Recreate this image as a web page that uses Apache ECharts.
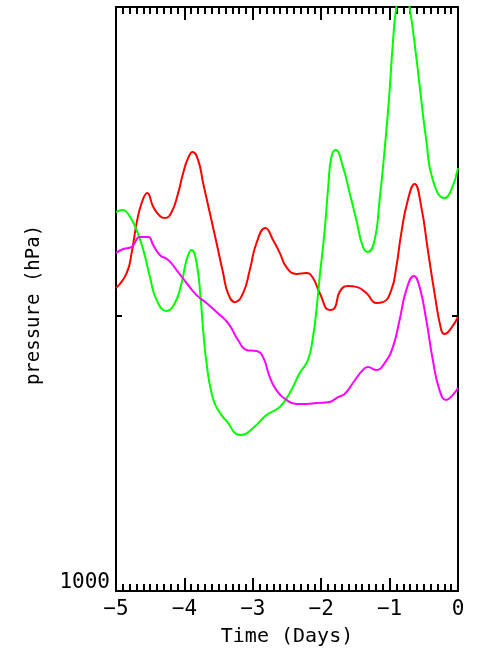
<!DOCTYPE html>
<html>
<head>
<meta charset="utf-8">
<script src="https://cdn.jsdelivr.net/npm/echarts@6/dist/echarts.min.js"></script>
<style>
html,body{margin:0;padding:0;background:#fff;}
#chart{width:478px;height:654px;}
</style>
</head>
<body>
<div id="chart"></div>
<script>
// Time (days) vs pressure (hPa)
const xTicks = [-5, -4, -3, -2, -1, 0];
const yTickValues = [900, 1000];
const yLabelValues = [1000];

const redSeries = [[-5,890.7],[-4.844,885.6],[-4.771,878.8],[-4.698,868.8],[-4.625,862.2],[-4.543,858.9],[-4.455,863.5],[-4.358,866.5],[-4.285,867.2],[-4.187,865.2],[-4.091,858.9],[-4.018,852.4],[-3.945,847.5],[-3.880,845.6],[-3.799,848.2],[-3.726,855.7],[-3.628,865.5],[-3.530,875.5],[-3.434,885.6],[-3.361,892.6],[-3.263,895.5],[-3.142,892.4],[-3.044,884.6],[-2.946,875.5],[-2.815,870.5],[-2.704,874.5],[-2.606,878.8],[-2.508,883.6],[-2.362,885.9],[-2.216,885.6],[-2.120,887.3],[-2.022,892.4],[-1.876,898.2],[-1.803,897.5],[-1.730,892.0],[-1.609,890.0],[-1.486,890.3],[-1.340,892.4],[-1.194,895.8],[-1.098,895.5],[-0.975,891.4],[-0.902,883.6],[-0.829,872.2],[-0.733,861.2],[-0.635,856.0],[-0.537,863.5],[-0.441,877.8],[-0.343,892.4],[-0.245,905.1],[-0.197,906.5],[-0.099,904.4],[0,900.6]];

const greenSeries = [[-5,865.2],[-4.902,864.5],[-4.796,866.8],[-4.698,871.2],[-4.601,877.8],[-4.504,886.9],[-4.406,894.8],[-4.260,898.5],[-4.139,895.8],[-4.041,889.0],[-3.968,881.2],[-3.895,877.8],[-3.822,882.2],[-3.764,893.8],[-3.726,905.1],[-3.676,916.6],[-3.603,927.1],[-3.507,933.2],[-3.361,937.8],[-3.238,941.8],[-3.165,942.1],[-2.996,939.6],[-2.800,935.0],[-2.606,932.1],[-2.460,927.1],[-2.314,920.1],[-2.193,915.5],[-2.120,907.5],[-2.070,898.2],[-2.022,886.9],[-1.949,871.2],[-1.901,857.9],[-1.851,847.2],[-1.788,844.9],[-1.682,850.4],[-1.584,858.9],[-1.486,867.8],[-1.390,876.8],[-1.317,878.5],[-1.219,874.5],[-1.146,861.2],[-1.073,844.9],[-1.010,828.9],[-0.952,811.1],[-0.902,800.1],[-0.810,790.2],[-0.708,800.1],[-0.610,815.4],[-0.537,828.9],[-0.464,841.7],[-0.368,854.7],[-0.197,860.6],[-0.099,857.9],[0,850.8]];

const magentaSeries = [[-5,878.8],[-4.893,877.5],[-4.771,876.8],[-4.650,873.5],[-4.528,873.5],[-4.455,876.2],[-4.358,879.5],[-4.236,881.2],[-4.114,884.6],[-3.968,889.0],[-3.822,893.1],[-3.676,895.8],[-3.530,898.9],[-3.361,902.7],[-3.215,908.6],[-3.092,912.0],[-2.946,912.4],[-2.850,914.5],[-2.752,921.5],[-2.654,926.1],[-2.508,929.6],[-2.362,931.0],[-2.216,931.0],[-2.070,930.7],[-1.876,930.3],[-1.755,928.6],[-1.657,927.5],[-1.536,923.6],[-1.390,919.0],[-1.317,918.0],[-1.194,919.0],[-1.073,916.6],[-0.952,911.0],[-0.854,901.6],[-0.756,891.4],[-0.645,886.6],[-0.562,890.3],[-0.464,901.6],[-0.368,915.5],[-0.270,926.1],[-0.172,929.6],[-0.075,927.8],[0,925.4]];

const FONT = '"DejaVu Sans Mono", monospace';
const chart = echarts.init(document.getElementById('chart'), null, {renderer: 'canvas'});

function fmtX(v) { return v < 0 ? '\u2212' + Math.abs(v) : String(v); }

const xBase = {
  type: 'value', min: -5, max: 0, interval: 1,
  axisLine: {onZero: false, lineStyle: {color: '#000', width: 2}},
  axisTick: {show: true, inside: true, length: 13, lineStyle: {color: '#000', width: 2}},
  minorTick: {show: true, splitNumber: 10, length: 7, lineStyle: {color: '#000', width: 2}},
  splitLine: {show: false}
};
const yBase = {
  type: 'log', logBase: 10, min: 800, max: 1000, inverse: true,
  axisLine: {onZero: false, lineStyle: {color: '#000', width: 2}},
  axisTick: {show: true, inside: true, length: 6, customValues: yTickValues, lineStyle: {color: '#000', width: 2}},
  minorTick: {show: false},
  splitLine: {show: false}
};

chart.setOption({
  animation: false,
  backgroundColor: '#fff',
  grid: {left: 116, right: 20, top: 7, bottom: 63, containLabel: false},
  xAxis: [
    Object.assign({}, xBase, {
      position: 'bottom',
      name: 'Time (Days)', nameLocation: 'middle', nameGap: 36,
      nameTextStyle: {fontFamily: FONT, fontSize: 20, color: '#000'},
      axisLabel: {show: true, margin: 8, fontFamily: FONT, fontSize: 21, color: '#000', formatter: fmtX}
    }),
    Object.assign({}, xBase, {position: 'top', axisLabel: {show: false}})
  ],
  yAxis: [
    Object.assign({}, yBase, {
      position: 'left',
      name: 'pressure (hPa)', nameLocation: 'middle', nameGap: 72, nameRotate: 90,
      nameTextStyle: {fontFamily: FONT, fontSize: 19, color: '#000', padding: [0, 12, 0, 0]},
      axisLabel: {show: true, customValues: yLabelValues, margin: 6, fontFamily: FONT, fontSize: 21, color: '#000',
        verticalAlign: 'bottom', lineHeight: 16, formatter: function (v) { return String(Math.round(v)); }}
    }),
    Object.assign({}, yBase, {position: 'right', axisTick: Object.assign({}, yBase.axisTick, {customValues: [900]}), axisLabel: {show: false}})
  ],
  series: [
    {type: 'line', data: redSeries, xAxisIndex: 0, yAxisIndex: 0, showSymbol: false, smooth: 0.5,
      lineStyle: {color: '#ff0000', width: 2}, itemStyle: {color: '#ff0000'}, clip: true},
    {type: 'line', data: greenSeries, xAxisIndex: 0, yAxisIndex: 0, showSymbol: false, smooth: 0.5,
      lineStyle: {color: '#00ff00', width: 2}, itemStyle: {color: '#00ff00'}, clip: true},
    {type: 'line', data: magentaSeries, xAxisIndex: 0, yAxisIndex: 0, showSymbol: false, smooth: 0.5,
      lineStyle: {color: '#ff00ff', width: 2}, itemStyle: {color: '#ff00ff'}, clip: true}
  ]
});
</script>
</body>
</html>
